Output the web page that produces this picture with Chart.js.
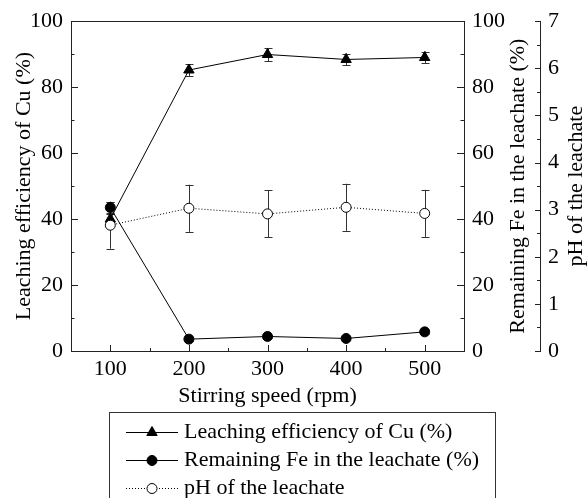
<!DOCTYPE html>
<html><head><meta charset="utf-8">
<script src="https://cdn.jsdelivr.net/npm/chart.js@4"></script>
<style>html,body{margin:0;padding:0;background:#fff}</style>
</head><body>
<canvas id="c" width="587" height="498"></canvas>
<script>
// ---- data ----
const speeds = [100, 200, 300, 400, 500];
const cuLeaching = [40.0, 85.2, 89.9, 88.4, 89.0];
const cuErr = [1.5, 1.8, 2.0, 1.8, 1.8];
const feRemaining = [43.5, 3.6, 4.4, 3.8, 5.8];
const feErr = [1.7, 0.5, 0.5, 0.5, 0.5];
const phValues = [2.67, 3.03, 2.91, 3.05, 2.92];
const phErr = [0.5, 0.5, 0.5, 0.5, 0.5];

const xTicks = [100, 200, 300, 400, 500];
const xMinorTicks = [150, 250, 350, 450];
const pctTicks = [0, 20, 40, 60, 80, 100];
const pctMinorTicks = [10, 30, 50, 70, 90];
const phTicks = [0, 1, 2, 3, 4, 5, 6, 7];
const phMinorTicks = [0.5, 1.5, 2.5, 3.5, 4.5, 5.5, 6.5];

const seriesLabels = ['Leaching efficiency of Cu (%)', 'Remaining Fe in the leachate (%)', 'pH of the leachate'];
const xTitle = 'Stirring speed (rpm)';
const yTitle = 'Leaching efficiency of Cu (%)';
const y2Title = 'Remaining Fe in the leachate (%)';
const y3Title = 'pH of the leachate';

const FONT = "'Liberation Serif', 'Times New Roman', serif";
const FS = 22;
const AXIS = '#222';

const pts = (vals) => speeds.map((s, i) => ({x: s, y: vals[i]}));

const errSets = [
  {vals: cuLeaching, err: cuErr, axis: 'y'},
  {vals: feRemaining, err: feErr, axis: 'y2'},
  {vals: phValues, err: phErr, axis: 'y3'}
];

function ln(ctx, x1, y1, x2, y2) { ctx.beginPath(); ctx.moveTo(x1, y1); ctx.lineTo(x2, y2); ctx.stroke(); }

const framePlugin = {
  id: 'frame',
  beforeDatasetsDraw(chart) {
    const ctx = chart.ctx; const a = chart.chartArea;
    const {x, y, y2, y3} = chart.scales;
    ctx.save();
    ctx.strokeStyle = AXIS; ctx.lineWidth = 1;
    ln(ctx, a.left, Math.round(a.top) + 0.5, a.right, Math.round(a.top) + 0.5);
    const B = Math.round(a.bottom);
    xTicks.forEach(v => { const p = Math.round(x.getPixelForValue(v)) + 0.5; ln(ctx, p, B, p, B - 6); });
    xMinorTicks.forEach(v => { const p = Math.round(x.getPixelForValue(v)) + 0.5; ln(ctx, p, B, p, B - 3); });
    const L = Math.round(a.left);
    pctTicks.forEach(v => { const p = Math.round(y.getPixelForValue(v)) + 0.5; ln(ctx, L, p, L + 7, p); });
    pctMinorTicks.forEach(v => { const p = Math.round(y.getPixelForValue(v)) + 0.5; ln(ctx, L, p, L + 3.5, p); });
    const R = Math.round(a.right);
    pctTicks.forEach(v => { const p = Math.round(y2.getPixelForValue(v)) + 0.5; ln(ctx, R, p, R - 7, p); });
    pctMinorTicks.forEach(v => { const p = Math.round(y2.getPixelForValue(v)) + 0.5; ln(ctx, R, p, R - 3.5, p); });
    const P = Math.round(y3.left);
    phTicks.forEach(v => { const p = Math.round(y3.getPixelForValue(v)) + 0.5; ln(ctx, P, p, P - 5, p); });
    phMinorTicks.forEach(v => { const p = Math.round(y3.getPixelForValue(v)) + 0.5; ln(ctx, P, p, P - 3, p); });
    // error bars
    ctx.strokeStyle = '#333';
    errSets.forEach(s => {
      const sc = chart.scales[s.axis];
      s.vals.forEach((v, i) => {
        const px = Math.round(x.getPixelForValue(speeds[i])) + 0.5;
        const t = sc.getPixelForValue(v + s.err[i]);
        const b = sc.getPixelForValue(v - s.err[i]);
        ln(ctx, px, t, px, b);
        ln(ctx, px - 4, Math.round(t) + 0.5, px + 4, Math.round(t) + 0.5);
        ln(ctx, px - 4, Math.round(b) + 0.5, px + 4, Math.round(b) + 0.5);
      });
    });
    ctx.restore();
  },
  afterDraw(chart) {
    const ctx = chart.ctx; const a = chart.chartArea;
    ctx.save();
    ctx.fillStyle = '#000';
    ctx.font = FS + 'px ' + FONT;
    ctx.textAlign = 'center'; ctx.textBaseline = 'middle';
    const cy = (a.top + a.bottom) / 2;
    [[y2Title, 518], [y3Title, 576]].forEach(([t, xx]) => {
      ctx.save(); ctx.translate(xx, cy); ctx.rotate(-Math.PI / 2); ctx.fillText(t, 0, 0); ctx.restore();
    });
    // legend
    const lx = 109.5, lt = 412.5, lw = 386;
    ctx.strokeStyle = '#333'; ctx.lineWidth = 1;
    ctx.strokeRect(lx, lt, lw, 120);
    const rows = [432, 460, 488];
    chart.data.datasets.forEach((ds, i) => {
      const ry = rows[i] + 0.5;
      ctx.save();
      ctx.strokeStyle = ds.borderColor; ctx.lineWidth = ds.borderWidth;
      ctx.setLineDash(ds.borderDash || []);
      ln(ctx, 126, ry, 178, ry);
      ctx.restore();
      ctx.save();
      ctx.fillStyle = ds.pointBackgroundColor; ctx.strokeStyle = ds.pointBorderColor;
      ctx.lineWidth = ds.pointBorderWidth;
      Chart.helpers.drawPoint(ctx, {pointStyle: ds.pointStyle, rotation: 0, radius: ds.pointRadius, borderWidth: ds.pointBorderWidth}, 152, ry);
      ctx.restore();
      ctx.fillStyle = '#000'; ctx.textAlign = 'left'; ctx.textBaseline = 'middle';
      ctx.fillText(ds.label, 184, rows[i]);
    });
    ctx.restore();
  }
};

const tickFont = {family: FONT, size: FS};

new Chart(document.getElementById('c'), {
  type: 'line',
  data: {
    datasets: [
      {label: seriesLabels[0], data: pts(cuLeaching), yAxisID: 'y', borderColor: '#000', borderWidth: 1,
       pointStyle: 'triangle', pointRadius: 6, pointBackgroundColor: '#000', pointBorderColor: '#000', pointBorderWidth: 1, order: 1},
      {label: seriesLabels[1], data: pts(feRemaining), yAxisID: 'y2', borderColor: '#000', borderWidth: 1,
       pointStyle: 'circle', pointRadius: 5, pointBackgroundColor: '#000', pointBorderColor: '#000', pointBorderWidth: 1, order: 2},
      {label: seriesLabels[2], data: pts(phValues), yAxisID: 'y3', borderColor: '#000', borderWidth: 1, borderDash: [1, 2],
       pointStyle: 'circle', pointRadius: 5, pointBackgroundColor: '#fff', pointBorderColor: '#000', pointBorderWidth: 1, order: 0}
    ]
  },
  options: {
    responsive: false, animation: false, devicePixelRatio: 1,
    layout: {padding: {top: 21, bottom: 86, left: 0, right: 0}},
    plugins: {legend: {display: false}, tooltip: {enabled: false}},
    scales: {
      x: {type: 'linear', min: 50, max: 550,
        afterBuildTicks: s => { s.ticks = xTicks.map(v => ({value: v})); },
        afterFit: s => { s.height = 61; },
        grid: {display: false, drawTicks: false}, border: {display: true, color: AXIS, width: 1},
        ticks: {font: tickFont, color: '#000', padding: 5, maxRotation: 0},
        title: {display: true, text: xTitle, font: tickFont, color: '#000', padding: {top: 0, bottom: 3}}},
      y: {type: 'linear', position: 'left', min: 0, max: 100,
        afterBuildTicks: s => { s.ticks = pctTicks.map(v => ({value: v})); },
        afterFit: s => { s.width = 71; },
        grid: {display: false, drawTicks: false}, border: {display: true, color: AXIS, width: 1},
        ticks: {font: tickFont, color: '#000', padding: 8},
        title: {display: true, text: yTitle, font: tickFont, color: '#000', padding: {top: 11, bottom: 0}}},
      y2: {type: 'linear', position: 'right', weight: 0, min: 0, max: 100,
        afterBuildTicks: s => { s.ticks = pctTicks.map(v => ({value: v})); },
        afterFit: s => { s.width = 76; },
        grid: {display: false, drawTicks: false}, border: {display: true, color: AXIS, width: 1},
        ticks: {font: tickFont, color: '#000', padding: 8}},
      y3: {type: 'linear', position: 'right', weight: 1, min: 0, max: 7,
        afterBuildTicks: s => { s.ticks = phTicks.map(v => ({value: v})); },
        afterFit: s => { s.width = 47; },
        grid: {display: false, drawTicks: false}, border: {display: true, color: AXIS, width: 1},
        ticks: {font: tickFont, color: '#000', padding: 8}}
    }
  },
  plugins: [framePlugin]
});
</script>
</body></html>
